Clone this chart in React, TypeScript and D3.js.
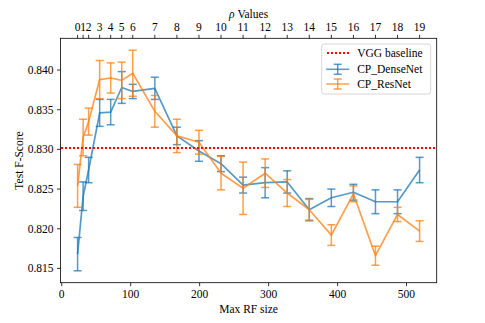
import React from "react";
import * as d3 from "d3";

// rho values and the max receptive field size each one maps to
const rhoValues = [0, 1, 2, 3, 4, 5, 6, 7, 8, 9, 10, 11, 12, 13, 14, 15, 16, 17, 18, 19];
const rfSizes = [23, 31, 39, 55, 71, 87, 103, 135, 167, 199, 231, 263, 295, 327, 359, 391, 423, 455, 487, 519];

const denseMean = [0.8168, 0.8241, 0.8274, 0.8346, 0.8347, 0.8378, 0.8373, 0.8377, 0.8317, 0.8298,
  0.8282, 0.8255, 0.8258, 0.8259, 0.8224, 0.8239, 0.8246, 0.8234, 0.8234, 0.8274];
const denseErr = [0.0021, 0.0018, 0.0016, 0.0017, 0.0016, 0.002, 0.0009, 0.0014, 0.0011, 0.0013,
  0.001, 0.001, 0.0019, 0.0014, 0.0014, 0.0011, 0.001, 0.0015, 0.0015, 0.0016];

const resMean = [0.8254, 0.8315, 0.8335, 0.8388, 0.839, 0.8387, 0.8396, 0.8348, 0.8317, 0.8309,
  0.827, 0.8251, 0.827, 0.8245, 0.8224, 0.8192, 0.8244, 0.8166, 0.8218, 0.8197];
const resErr = [0.0027, 0.0023, 0.0017, 0.0024, 0.0019, 0.0023, 0.0029, 0.002, 0.0021, 0.0015,
  0.0021, 0.0033, 0.0018, 0.0017, 0.0013, 0.0013, 0.001, 0.0012, 0.0009, 0.0013];

const vggBaseline = 0.8302;

const xTicks = [0, 100, 200, 300, 400, 500];
const yTicks = [0.815, 0.82, 0.825, 0.83, 0.835, 0.84];

const W = 485, H = 323;
const margin = { left: 60.5, right: 48.3, top: 38.3, bottom: 40.3 };
const FONT = "'Liberation Serif', 'DejaVu Serif', serif";

const BLUE = "#1f77b4";
const ORANGE = "#ff7f0e";

function Series({ x, y, mean, err, color }: any) {
  const line = d3.line<number>().x((_, i) => x(rfSizes[i])).y((d) => y(d));
  return (
    <g stroke={color} strokeOpacity={0.75} fill="none">
      {mean.map((m: number, i: number) => {
        const px = x(rfSizes[i]);
        const top = y(m + err[i]);
        const bot = y(m - err[i]);
        return (
          <g key={i} strokeWidth={1.5}>
            <line x1={px} x2={px} y1={top} y2={bot} />
            <line x1={px - 4} x2={px + 4} y1={top} y2={top} />
            <line x1={px - 4} x2={px + 4} y1={bot} y2={bot} />
          </g>
        );
      })}
      <path d={line(mean) || ""} strokeWidth={1.7} strokeLinejoin="round" />
    </g>
  );
}

export default function App() {
  const xs = d3.scaleLinear().domain([-1.8, 543.8]).range([margin.left, W - margin.right]);
  const ys = d3.scaleLinear().domain([0.8132, 0.8440]).range([H - margin.bottom, margin.top]);
  const left = margin.left, right = W - margin.right, top = margin.top, bottom = H - margin.bottom;
  const baseY = Math.round(ys(vggBaseline));

  const legendX = 321.7, legendY = 44;

  return (
    <div style={{ position: "fixed", left: 0, top: 0 }}>
      <svg width={W} height={H} style={{ display: "block", background: "#fff" }} fontFamily={FONT}>
        <Series x={xs} y={ys} mean={denseMean} err={denseErr} color={BLUE} />
        <Series x={xs} y={ys} mean={resMean} err={resErr} color={ORANGE} />
        <line x1={Math.round(left)} x2={right} y1={baseY} y2={baseY}
          stroke="#ff0000" strokeWidth={2} strokeDasharray="2 2" shapeRendering="crispEdges" />

        {/* frame */}
        <rect x={left} y={top} width={right - left} height={bottom - top} fill="none" stroke="#000" strokeWidth={0.8} />

        {/* bottom axis */}
        {xTicks.map((t) => (
          <g key={t} transform={`translate(${xs(t)},${bottom})`}>
            <line y2={3.5} stroke="#000" strokeWidth={0.8} />
            <text y={15} textAnchor="middle" fontSize={11.5} fill="#000">{t}</text>
          </g>
        ))}
        <text x={(left + right) / 2} y={313} textAnchor="middle" fontSize={11.5}>Max RF size</text>

        {/* top axis */}
        {rhoValues.map((r, i) => (
          <g key={r} transform={`translate(${xs(rfSizes[i])},${top})`}>
            <line y2={-3.5} stroke="#000" strokeWidth={0.8} />
            <text y={-7} textAnchor="middle" fontSize={11.5} fill="#000">{r}</text>
          </g>
        ))}
        <text x={(left + right) / 2} y={17.5} textAnchor="middle" fontSize={11.5}>
          <tspan fontStyle="italic">ρ</tspan> Values
        </text>

        {/* left axis */}
        {yTicks.map((t) => (
          <g key={t} transform={`translate(${left},${ys(t)})`}>
            <line x2={-3.5} stroke="#000" strokeWidth={0.8} />
            <text x={-7} dy="0.35em" textAnchor="end" fontSize={11.5} fill="#000">{t.toFixed(3)}</text>
          </g>
        ))}
        <text transform={`translate(23,${(top + bottom) / 2}) rotate(-90)`} textAnchor="middle" fontSize={11.5}>
          Test F-Score
        </text>

        {/* legend */}
        <g transform={`translate(${legendX},${legendY})`}>
          <rect width={109} height={50} rx={2.5} fill="#fff" fillOpacity={0.8} stroke="#ccc" strokeWidth={0.8} />
          <line x1={5} x2={27.5} y1={9} y2={9} stroke="#ff0000" strokeWidth={2} strokeDasharray="2 2" shapeRendering="crispEdges" />
          <text x={35.5} y={9.3} dy="0.35em" fontSize={11.5}>VGG baseline</text>
          {[{ c: BLUE, l: "CP_DenseNet", yy: 25.3 }, { c: ORANGE, l: "CP_ResNet", yy: 40 }].map((e) => (
            <g key={e.l} stroke={e.c} strokeOpacity={0.75} strokeWidth={1.5}>
              <line x1={4.5} x2={27.5} y1={e.yy} y2={e.yy} />
              <line x1={16} x2={16} y1={e.yy - 5} y2={e.yy + 5} />
              <line x1={12} x2={20} y1={e.yy - 5} y2={e.yy - 5} />
              <line x1={12} x2={20} y1={e.yy + 5} y2={e.yy + 5} />
              <text x={35.5} y={e.yy} dy="0.35em" fontSize={11.5} stroke="none" fill="#000">{e.l}</text>
            </g>
          ))}
        </g>
      </svg>
    </div>
  );
}
